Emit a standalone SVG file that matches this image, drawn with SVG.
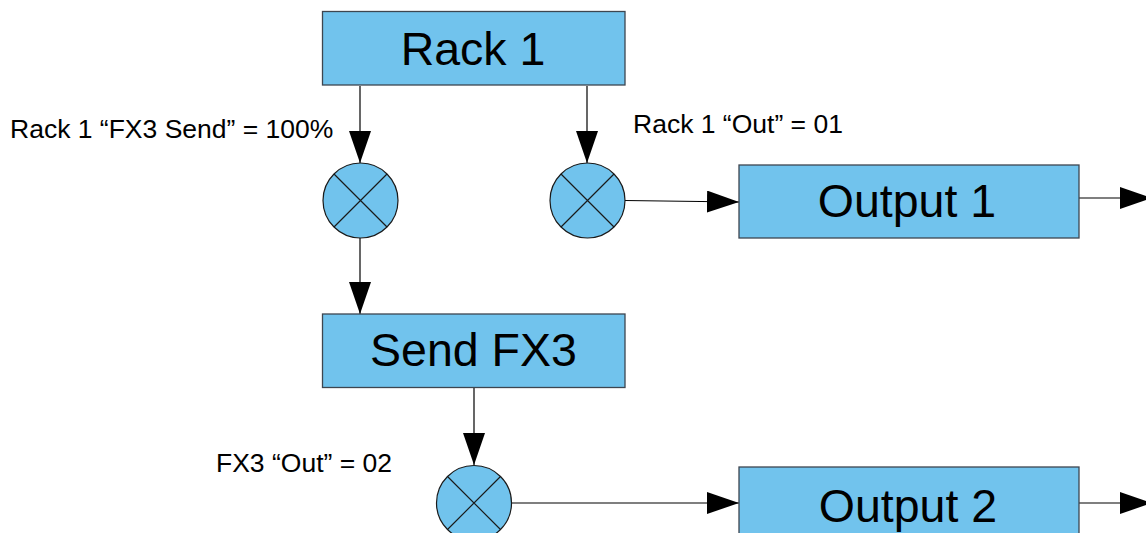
<svg xmlns="http://www.w3.org/2000/svg" width="1146" height="533" viewBox="0 0 1146 533">
<style>
.box{fill:#71c3ed;stroke:#3d4650;stroke-width:1.3}
.mix{fill:#71c3ed;stroke:#1a1a1a;stroke-width:1.2}
.x{stroke:#1a1a1a;stroke-width:1.2}
.big{font-family:"Liberation Sans",Arial,sans-serif;font-size:46.5px;fill:#000;text-anchor:middle}
.lbl{font-family:"Liberation Sans",Arial,sans-serif;font-size:26.5px;fill:#000}
.con{stroke:#000;stroke-width:1.2;fill:none;marker-end:url(#ah)}
</style>
<defs>
<marker id="ah" markerUnits="userSpaceOnUse" markerWidth="33" markerHeight="23" refX="32" refY="11" orient="auto" viewBox="0 0 33 23">
<path d="M0,0 L32,11 L0,22 Z" fill="#000"/>
</marker>
</defs>
<g id="connectors">
<path class="con" d="M360,86 L360,163"/>
<path class="con" d="M587,86 L587,163"/>
<path class="con" d="M625,200.5 L739,202"/>
<path class="con" d="M1079,198 L1152,198"/>
<path class="con" d="M360,238 L360,314"/>
<path class="con" d="M474,388 L474,465"/>
<path class="con" d="M512,503 L739,503"/>
<path class="con" d="M1079,503 L1152,503"/>
</g>
<g id="rack1">
<rect class="box" x="322.5" y="11.5" width="302.5" height="73.5"/>
<text class="big" x="473" y="65">Rack 1</text>
</g>
<g id="mixer1">
<circle class="mix" cx="360.5" cy="200.5" r="37.5"/>
<path class="x" d="M334,174 L387,227 M387,174 L334,227"/>
</g>
<g id="mixer2">
<circle class="mix" cx="587.5" cy="200.5" r="37.5"/>
<path class="x" d="M561,174 L614,227 M614,174 L561,227"/>
</g>
<g id="output1">
<rect class="box" x="739" y="165" width="340" height="73"/>
<text class="big" x="907" y="217">Output 1</text>
</g>
<g id="sendfx3">
<rect class="box" x="322.5" y="314" width="302.5" height="73.5"/>
<text class="big" x="473.5" y="366">Send FX3</text>
</g>
<g id="mixer3">
<circle class="mix" cx="474" cy="503" r="37.5"/>
<path class="x" d="M447.5,476.5 L500.5,529.5 M500.5,476.5 L447.5,529.5"/>
</g>
<g id="output2">
<rect class="box" x="739" y="467" width="340" height="80"/>
<text class="big" x="908" y="522">Output 2</text>
</g>
<g id="labels">
<text class="lbl" x="10" y="138">Rack 1 “FX3 Send” = 100%</text>
<text class="lbl" x="633" y="133">Rack 1 “Out” = 01</text>
<text class="lbl" x="216" y="472">FX3 “Out” = 02</text>
</g>
</svg>
